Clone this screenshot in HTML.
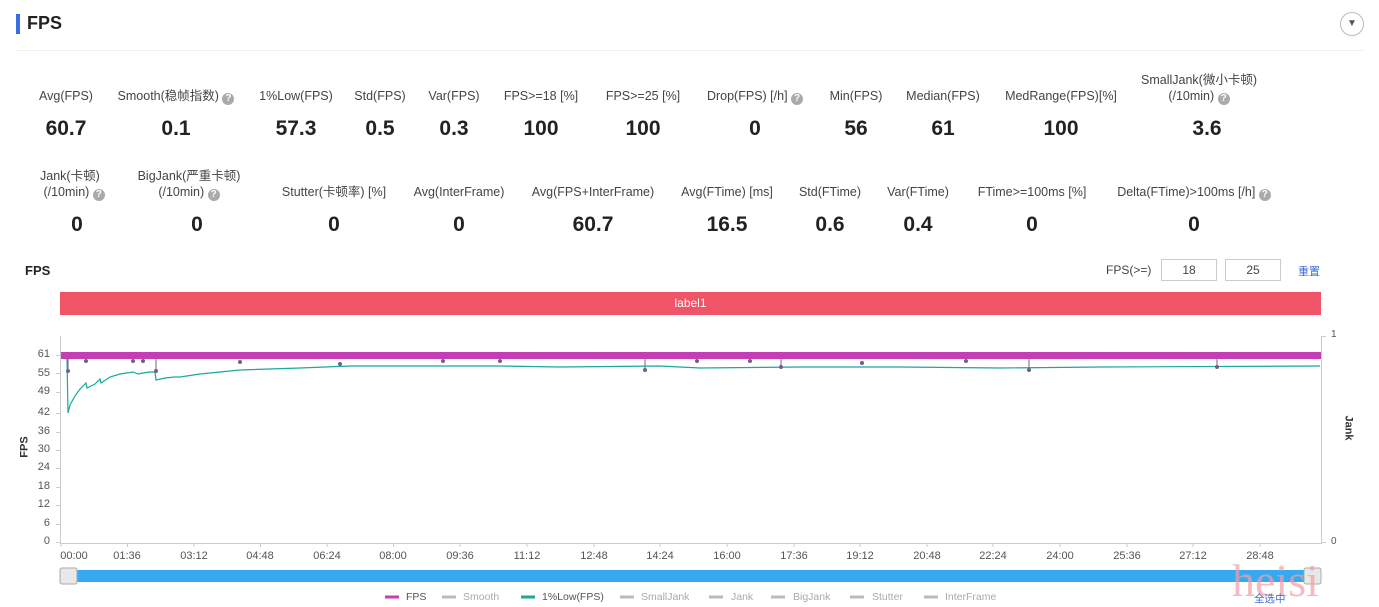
<!DOCTYPE html><html><head><meta charset="utf-8"><style>
body{margin:0;width:1379px;height:607px;background:#fff;font-family:"Liberation Sans","Noto Sans CJK SC",sans-serif;position:relative;overflow:hidden;color:#333}
.a{position:absolute}
.l{position:absolute;width:240px;text-align:center;font-size:12.5px;color:#444;line-height:16px}
.v{position:absolute;width:200px;text-align:center;font-size:21px;font-weight:bold;color:#222}
.q{display:inline-block;width:12px;height:12px;border-radius:50%;background:#aaa;color:#fff;font-size:10px;line-height:12px;text-align:center;font-weight:bold;vertical-align:-1px}
.yt{position:absolute;left:20px;width:30px;text-align:right;font-size:11px;color:#555}
.xt{position:absolute;width:50px;text-align:center;font-size:11px;color:#555;top:550px}
.lg{position:absolute;top:591px;font-size:10.5px;color:#aaa}
</style></head><body>
<div class="a" style="left:16px;top:14px;width:4px;height:20px;background:#3b6fe0"></div>
<div class="a" style="left:27px;top:13px;font-size:18px;font-weight:bold;color:#222">FPS</div>
<div class="a" style="left:16px;top:50px;width:1348px;height:1px;background:#f0f0f0"></div>
<div class="a" style="left:1340px;top:12px;width:22px;height:22px;border:1px solid #bbb;border-radius:50%;text-align:center;font-size:10px;line-height:22px;color:#555">▼</div>

<div class="l" style="left:-54px;top:88px">Avg(FPS)</div>
<div class="l" style="left:56px;top:88px">Smooth(稳帧指数) <span class="q">?</span></div>
<div class="l" style="left:176px;top:88px">1%Low(FPS)</div>
<div class="l" style="left:260px;top:88px">Std(FPS)</div>
<div class="l" style="left:334px;top:88px">Var(FPS)</div>
<div class="l" style="left:421px;top:88px">FPS&gt;=18 [%]</div>
<div class="l" style="left:523px;top:88px">FPS&gt;=25 [%]</div>
<div class="l" style="left:635px;top:88px">Drop(FPS) [/h] <span class="q">?</span></div>
<div class="l" style="left:736px;top:88px">Min(FPS)</div>
<div class="l" style="left:823px;top:88px">Median(FPS)</div>
<div class="l" style="left:941px;top:88px">MedRange(FPS)[%]</div>
<div class="l" style="left:1079px;top:72px">SmallJank(微小卡顿)<br>(/10min) <span class="q">?</span></div>

<div class="v" style="left:-34px;top:117px">60.7</div>
<div class="v" style="left:76px;top:117px">0.1</div>
<div class="v" style="left:196px;top:117px">57.3</div>
<div class="v" style="left:280px;top:117px">0.5</div>
<div class="v" style="left:354px;top:117px">0.3</div>
<div class="v" style="left:441px;top:117px">100</div>
<div class="v" style="left:543px;top:117px">100</div>
<div class="v" style="left:655px;top:117px">0</div>
<div class="v" style="left:756px;top:117px">56</div>
<div class="v" style="left:843px;top:117px">61</div>
<div class="v" style="left:961px;top:117px">100</div>
<div class="v" style="left:1107px;top:117px">3.6</div>

<div class="l" style="left:-51px;top:168px;text-align:left;padding-left:91px">Jank(卡顿)<br>&nbsp;(/10min) <span class="q">?</span></div>
<div class="l" style="left:69px;top:168px">BigJank(严重卡顿)<br>(/10min) <span class="q">?</span></div>
<div class="l" style="left:214px;top:184px">Stutter(卡顿率) [%]</div>
<div class="l" style="left:339px;top:184px">Avg(InterFrame)</div>
<div class="l" style="left:473px;top:184px">Avg(FPS+InterFrame)</div>
<div class="l" style="left:607px;top:184px">Avg(FTime) [ms]</div>
<div class="l" style="left:710px;top:184px">Std(FTime)</div>
<div class="l" style="left:798px;top:184px">Var(FTime)</div>
<div class="l" style="left:912px;top:184px">FTime&gt;=100ms [%]</div>
<div class="l" style="left:1074px;top:184px">Delta(FTime)&gt;100ms [/h] <span class="q">?</span></div>

<div class="v" style="left:-23px;top:213px">0</div>
<div class="v" style="left:97px;top:213px">0</div>
<div class="v" style="left:234px;top:213px">0</div>
<div class="v" style="left:359px;top:213px">0</div>
<div class="v" style="left:493px;top:213px">60.7</div>
<div class="v" style="left:627px;top:213px">16.5</div>
<div class="v" style="left:730px;top:213px">0.6</div>
<div class="v" style="left:818px;top:213px">0.4</div>
<div class="v" style="left:932px;top:213px">0</div>
<div class="v" style="left:1094px;top:213px">0</div>

<div class="a" style="left:25px;top:263px;font-size:13px;font-weight:bold;color:#222">FPS</div>
<div class="a" style="left:1106px;top:263px;font-size:12px;color:#444">FPS(&gt;=)</div>
<div class="a" style="left:1161px;top:259px;width:54px;height:20px;border:1px solid #ccc;text-align:center;font-size:12px;line-height:20px;color:#444">18</div>
<div class="a" style="left:1225px;top:259px;width:54px;height:20px;border:1px solid #ccc;text-align:center;font-size:12px;line-height:20px;color:#444">25</div>
<div class="a" style="left:1298px;top:263px;font-size:11px;color:#3a6fd8">重置</div>
<div class="a" style="left:60px;top:292px;width:1261px;height:23px;background:#ef5566;color:#fff;text-align:center;font-size:12px;line-height:23px">label1</div>

<div class="yt" style="top:348px">61</div><div class="yt" style="top:367px">55</div><div class="yt" style="top:385px">49</div><div class="yt" style="top:406px">42</div><div class="yt" style="top:425px">36</div><div class="yt" style="top:443px">30</div><div class="yt" style="top:461px">24</div><div class="yt" style="top:480px">18</div><div class="yt" style="top:498px">12</div><div class="yt" style="top:517px">6</div><div class="yt" style="top:535px">0</div>
<div class="a" style="left:14px;top:441px;font-size:11px;font-weight:bold;transform:rotate(-90deg)">FPS</div>
<div class="a" style="left:1336px;top:422px;font-size:11px;font-weight:bold;transform:rotate(90deg)">Jank</div>
<div class="a" style="left:1331px;top:329px;font-size:10px;color:#555">1</div>
<div class="a" style="left:1331px;top:536px;font-size:10px;color:#555">0</div>

<svg class="a" style="left:0;top:0" width="1379" height="607">
<g stroke="#ccc" stroke-width="1" fill="none">
<line x1="60.5" y1="336" x2="60.5" y2="543"/>
<line x1="60" y1="543.5" x2="1322" y2="543.5"/>
<line x1="1321.5" y1="336" x2="1321.5" y2="543"/>
<line x1="1321" y1="336.5" x2="1326" y2="336.5"/><line x1="1321" y1="542.5" x2="1326" y2="542.5"/>
<path d="M56 355.5h4M56 373.5h4M56 392.5h4M56 413.5h4M56 432.5h4M56 450.5h4M56 468.5h4M56 487.5h4M56 505.5h4M56 524.5h4M56 542.5h4"/>
<path d="M61 543v4M127.5 543v4M194 543v4M260.5 543v4M327 543v4M393.5 543v4M460 543v4M527 543v4M594 543v4M660 543v4M727 543v4M794 543v4M860 543v4M927 543v4M993 543v4M1060 543v4M1127 543v4M1193 543v4M1260 543v4"/>
</g>
<polyline fill="none" stroke="#1aa99a" stroke-width="1.2" points="62,357 67,359 68,413 70,405 75,396 80,389 86,383 87,388 95,384 100,379 101,383 110,377 120,374 133,372 138,374 143,373 150,372 155,372 156,380 165,378 175,377 180,377 200,374 240,370 300,368 350,366 400,366 500,366 560,367 660,366 700,368 800,367 900,367 1000,368 1100,367 1320,366"/>
<rect x="61" y="352" width="1260" height="7" fill="#c43fb4"/>
<g stroke="#7a5a8a" stroke-width="1" fill="#7a5a8a">
<line x1="68" y1="359" x2="68" y2="371"/><circle cx="68" cy="371" r="1.5"/>
<line x1="156" y1="359" x2="156" y2="371"/><circle cx="156" cy="371" r="1.5"/>
<circle cx="86" cy="361" r="1.5"/><circle cx="133" cy="361" r="1.5"/><circle cx="143" cy="361" r="1.5"/><circle cx="240" cy="362" r="1.5"/><circle cx="340" cy="364" r="1.5"/>
<line x1="645" y1="359" x2="645" y2="370"/><circle cx="645" cy="370" r="1.5"/>
<line x1="781" y1="359" x2="781" y2="367"/><circle cx="781" cy="367" r="1.5"/>
<line x1="1029" y1="359" x2="1029" y2="370"/><circle cx="1029" cy="370" r="1.5"/>
<line x1="1217" y1="359" x2="1217" y2="367"/><circle cx="1217" cy="367" r="1.5"/>
<circle cx="443" cy="361" r="1.5"/><circle cx="500" cy="361" r="1.5"/><circle cx="697" cy="361" r="1.5"/><circle cx="750" cy="361" r="1.5"/><circle cx="862" cy="363" r="1.5"/><circle cx="966" cy="361" r="1.5"/>
</g>
<rect x="68" y="570" width="1246" height="12" fill="#36a9f0"/>
<rect x="60" y="568" width="17" height="16" rx="2" fill="#e8e8e8" stroke="#aaa"/>
<rect x="1304" y="568" width="17" height="16" rx="2" fill="#e8e8e8" stroke="#aaa"/>
<g font-family="Liberation Serif,serif" font-size="46" fill="#f0a0a8" opacity="0.7"><text x="1232" y="596">heisi</text></g>
<g stroke-width="3"><line x1="385" y1="597" x2="399" y2="597" stroke="#c43fb4"/><line x1="442" y1="597" x2="456" y2="597" stroke="#bbb"/><line x1="521" y1="597" x2="535" y2="597" stroke="#1aa99a"/><line x1="620" y1="597" x2="634" y2="597" stroke="#bbb"/><line x1="709" y1="597" x2="723" y2="597" stroke="#bbb"/><line x1="771" y1="597" x2="785" y2="597" stroke="#bbb"/><line x1="850" y1="597" x2="864" y2="597" stroke="#bbb"/><line x1="924" y1="597" x2="938" y2="597" stroke="#bbb"/></g>
</svg>
<div class="xt" style="left:49px">00:00</div><div class="xt" style="left:102px">01:36</div><div class="xt" style="left:169px">03:12</div><div class="xt" style="left:235px">04:48</div><div class="xt" style="left:302px">06:24</div><div class="xt" style="left:368px">08:00</div><div class="xt" style="left:435px">09:36</div><div class="xt" style="left:502px">11:12</div><div class="xt" style="left:569px">12:48</div><div class="xt" style="left:635px">14:24</div><div class="xt" style="left:702px">16:00</div><div class="xt" style="left:769px">17:36</div><div class="xt" style="left:835px">19:12</div><div class="xt" style="left:902px">20:48</div><div class="xt" style="left:968px">22:24</div><div class="xt" style="left:1035px">24:00</div><div class="xt" style="left:1102px">25:36</div><div class="xt" style="left:1168px">27:12</div><div class="xt" style="left:1235px">28:48</div>
<div class="lg" style="left:406px;color:#555">FPS</div><div class="lg" style="left:463px">Smooth</div><div class="lg" style="left:542px;color:#555">1%Low(FPS)</div><div class="lg" style="left:641px">SmallJank</div><div class="lg" style="left:731px">Jank</div><div class="lg" style="left:793px">BigJank</div><div class="lg" style="left:872px">Stutter</div><div class="lg" style="left:945px">InterFrame</div>
<div class="lg" style="left:1254px;color:#3a6fd8">全选中</div>
</body></html>
